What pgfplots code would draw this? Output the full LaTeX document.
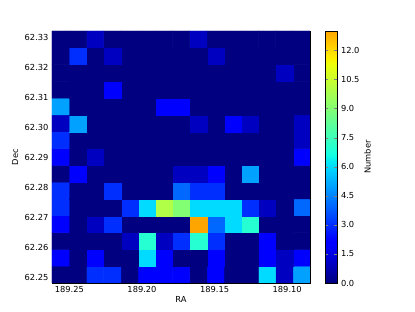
\documentclass[border=0pt]{standalone}
\usepackage{fontspec}
\setmainfont{DejaVu Sans}
\usepackage{pgfplots}
\pgfplotsset{compat=1.18}

\pgfplotsset{
  colormap={mjet}{rgb(0pt)=(0,0,0.5); rgb(110pt)=(0,0,1); rgb(125pt)=(0,0,1);
    rgb(340pt)=(0,0.86,1); rgb(350pt)=(0,0.9,0.968); rgb(375pt)=(0.081,1,0.887);
    rgb(640pt)=(0.935,1,0.032); rgb(650pt)=(0.968,0.963,0); rgb(660pt)=(1,0.926,0);
    rgb(735pt)=(1,0.648,0)},
}

\begin{document}
\begin{tikzpicture}
\useasboundingbox (-52pt,-29pt) rectangle (363pt,283pt);
\begin{axis}[
    scale only axis,
    width=258pt, height=252pt,
    font=\fontsize{8.3}{10}\selectfont,
    /pgf/number format/assume math mode=true,
    x dir=reverse,
    xmin=189.0843, xmax=189.2620,
    ymin=62.2480, ymax=62.3323,
    scaled ticks=false,
    xtick={189.10,189.15,189.20,189.25},
    ytick={62.25,62.26,62.27,62.28,62.29,62.30,62.31,62.32,62.33},
    xticklabel style={/pgf/number format/.cd,fixed,precision=2,zerofill},
    yticklabel style={/pgf/number format/.cd,fixed,precision=2,zerofill},
    axis line style={line width=0.8pt},
    major tick length=4pt,
    xlabel={RA}, ylabel={Dec},
    xlabel style={at={(axis description cs:0.5,-0.067)}, anchor=center},
    ylabel style={at={(axis description cs:-0.143,0.5)}, anchor=center},
    colormap name=mjet,
    point meta min=0, point meta max=13,
    colorbar,
    colorbar style={
        width=12pt,
        at={(1.06,1)}, anchor=north west,
        font=\fontsize{8.3}{10}\selectfont,
        /pgf/number format/assume math mode=true,
        ytick={0,1.5,3,4.5,6,7.5,9,10.5,12},
        yticklabel style={/pgf/number format/.cd,fixed,precision=1,zerofill},
        ylabel={Number},
        ylabel style={at={(axis description cs:3.5,0.5)}, anchor=center},
        axis line style={line width=0.8pt},
        major tick length=3pt,
    },
]
\addplot[matrix plot*, mesh/cols=15, point meta=explicit] coordinates {
(189.09018,62.25081)[5] (189.10203,62.25081)[1] (189.11388,62.25081)[6] (189.12573,62.25081)[0] (189.13758,62.25081)[0] (189.14943,62.25081)[2] (189.16128,62.25081)[0] (189.17313,62.25081)[2] (189.18498,62.25081)[2] (189.19683,62.25081)[2] (189.20868,62.25081)[0] (189.22053,62.25081)[3] (189.23238,62.25081)[3] (189.24423,62.25081)[0] (189.25608,62.25081)[0]
(189.09018,62.25643)[2] (189.10203,62.25643)[1] (189.11388,62.25643)[2] (189.12573,62.25643)[0] (189.13758,62.25643)[0] (189.14943,62.25643)[2] (189.16128,62.25643)[0] (189.17313,62.25643)[0] (189.18498,62.25643)[2] (189.19683,62.25643)[6] (189.20868,62.25643)[0] (189.22053,62.25643)[0] (189.23238,62.25643)[2] (189.24423,62.25643)[0] (189.25608,62.25643)[2]
(189.09018,62.26205)[0] (189.10203,62.26205)[0] (189.11388,62.26205)[2] (189.12573,62.26205)[0] (189.13758,62.26205)[0] (189.14943,62.26205)[3] (189.16128,62.26205)[7] (189.17313,62.26205)[3] (189.18498,62.26205)[1] (189.19683,62.26205)[7] (189.20868,62.26205)[1] (189.22053,62.26205)[0] (189.23238,62.26205)[0] (189.24423,62.26205)[0] (189.25608,62.26205)[0]
(189.09018,62.26767)[0] (189.10203,62.26767)[0] (189.11388,62.26767)[0] (189.12573,62.26767)[7] (189.13758,62.26767)[6] (189.14943,62.26767)[4] (189.16128,62.26767)[13] (189.17313,62.26767)[0] (189.18498,62.26767)[0] (189.19683,62.26767)[0] (189.20868,62.26767)[0] (189.22053,62.26767)[3] (189.23238,62.26767)[1] (189.24423,62.26767)[0] (189.25608,62.26767)[2]
(189.09018,62.27329)[4] (189.10203,62.27329)[0] (189.11388,62.27329)[1] (189.12573,62.27329)[3] (189.13758,62.27329)[6] (189.14943,62.27329)[6] (189.16128,62.27329)[6] (189.17313,62.27329)[9] (189.18498,62.27329)[10] (189.19683,62.27329)[6] (189.20868,62.27329)[3] (189.22053,62.27329)[0] (189.23238,62.27329)[0] (189.24423,62.27329)[0] (189.25608,62.27329)[3]
(189.09018,62.27891)[0] (189.10203,62.27891)[0] (189.11388,62.27891)[0] (189.12573,62.27891)[0] (189.13758,62.27891)[0] (189.14943,62.27891)[3] (189.16128,62.27891)[3] (189.17313,62.27891)[4] (189.18498,62.27891)[0] (189.19683,62.27891)[0] (189.20868,62.27891)[0] (189.22053,62.27891)[3] (189.23238,62.27891)[0] (189.24423,62.27891)[0] (189.25608,62.27891)[3]
(189.09018,62.28453)[0] (189.10203,62.28453)[0] (189.11388,62.28453)[0] (189.12573,62.28453)[5] (189.13758,62.28453)[0] (189.14943,62.28453)[2] (189.16128,62.28453)[1] (189.17313,62.28453)[1] (189.18498,62.28453)[0] (189.19683,62.28453)[0] (189.20868,62.28453)[0] (189.22053,62.28453)[0] (189.23238,62.28453)[0] (189.24423,62.28453)[2] (189.25608,62.28453)[0]
(189.09018,62.29015)[2] (189.10203,62.29015)[0] (189.11388,62.29015)[0] (189.12573,62.29015)[0] (189.13758,62.29015)[0] (189.14943,62.29015)[0] (189.16128,62.29015)[0] (189.17313,62.29015)[0] (189.18498,62.29015)[0] (189.19683,62.29015)[0] (189.20868,62.29015)[0] (189.22053,62.29015)[0] (189.23238,62.29015)[1] (189.24423,62.29015)[0] (189.25608,62.29015)[2]
(189.09018,62.29577)[1] (189.10203,62.29577)[0] (189.11388,62.29577)[0] (189.12573,62.29577)[0] (189.13758,62.29577)[0] (189.14943,62.29577)[0] (189.16128,62.29577)[0] (189.17313,62.29577)[0] (189.18498,62.29577)[0] (189.19683,62.29577)[0] (189.20868,62.29577)[0] (189.22053,62.29577)[0] (189.23238,62.29577)[0] (189.24423,62.29577)[0] (189.25608,62.29577)[3]
(189.09018,62.30139)[1] (189.10203,62.30139)[0] (189.11388,62.30139)[0] (189.12573,62.30139)[1] (189.13758,62.30139)[2] (189.14943,62.30139)[0] (189.16128,62.30139)[1] (189.17313,62.30139)[0] (189.18498,62.30139)[0] (189.19683,62.30139)[0] (189.20868,62.30139)[0] (189.22053,62.30139)[0] (189.23238,62.30139)[0] (189.24423,62.30139)[5] (189.25608,62.30139)[1]
(189.09018,62.30701)[0] (189.10203,62.30701)[0] (189.11388,62.30701)[0] (189.12573,62.30701)[0] (189.13758,62.30701)[0] (189.14943,62.30701)[0] (189.16128,62.30701)[0] (189.17313,62.30701)[2] (189.18498,62.30701)[2] (189.19683,62.30701)[0] (189.20868,62.30701)[0] (189.22053,62.30701)[0] (189.23238,62.30701)[0] (189.24423,62.30701)[0] (189.25608,62.30701)[5]
(189.09018,62.31263)[0] (189.10203,62.31263)[0] (189.11388,62.31263)[0] (189.12573,62.31263)[0] (189.13758,62.31263)[0] (189.14943,62.31263)[0] (189.16128,62.31263)[0] (189.17313,62.31263)[0] (189.18498,62.31263)[0] (189.19683,62.31263)[0] (189.20868,62.31263)[0] (189.22053,62.31263)[2] (189.23238,62.31263)[0] (189.24423,62.31263)[0] (189.25608,62.31263)[0]
(189.09018,62.31825)[0] (189.10203,62.31825)[1] (189.11388,62.31825)[0] (189.12573,62.31825)[0] (189.13758,62.31825)[0] (189.14943,62.31825)[0] (189.16128,62.31825)[0] (189.17313,62.31825)[0] (189.18498,62.31825)[0] (189.19683,62.31825)[0] (189.20868,62.31825)[0] (189.22053,62.31825)[0] (189.23238,62.31825)[0] (189.24423,62.31825)[0] (189.25608,62.31825)[0]
(189.09018,62.32387)[0] (189.10203,62.32387)[0] (189.11388,62.32387)[0] (189.12573,62.32387)[0] (189.13758,62.32387)[0] (189.14943,62.32387)[1] (189.16128,62.32387)[0] (189.17313,62.32387)[0] (189.18498,62.32387)[0] (189.19683,62.32387)[0] (189.20868,62.32387)[0] (189.22053,62.32387)[1] (189.23238,62.32387)[0] (189.24423,62.32387)[3] (189.25608,62.32387)[0]
(189.09018,62.32949)[0] (189.10203,62.32949)[0] (189.11388,62.32949)[0] (189.12573,62.32949)[0] (189.13758,62.32949)[0] (189.14943,62.32949)[0] (189.16128,62.32949)[1] (189.17313,62.32949)[0] (189.18498,62.32949)[0] (189.19683,62.32949)[0] (189.20868,62.32949)[0] (189.22053,62.32949)[0] (189.23238,62.32949)[1] (189.24423,62.32949)[0] (189.25608,62.32949)[0]
};
\end{axis}
\end{tikzpicture}
\end{document}
